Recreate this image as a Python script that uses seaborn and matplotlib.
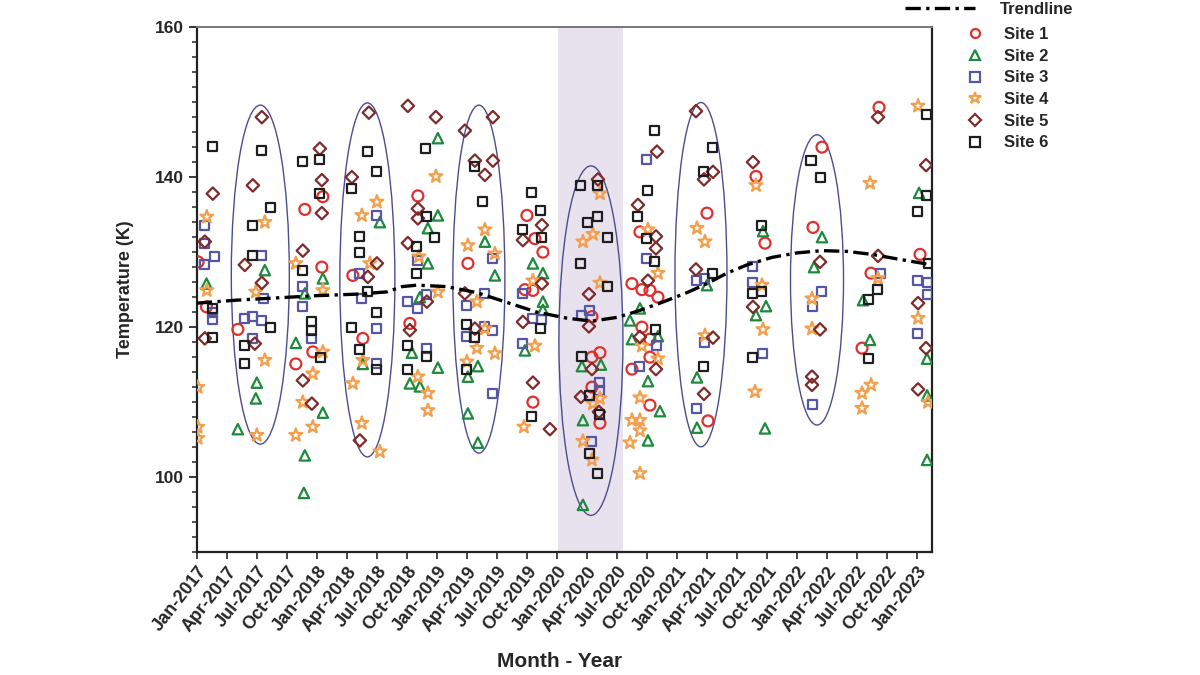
import matplotlib
matplotlib.use("Agg")
import matplotlib.pyplot as plt
from matplotlib.patches import Ellipse
from matplotlib.lines import Line2D
from matplotlib.ticker import MultipleLocator, FixedLocator
import seaborn as sns
import pandas as pd

# ---------------- data (x = months since Jan-2017, y = temperature K) -------------
tick_labels = ["Jan-2017", "Apr-2017", "Jul-2017", "Oct-2017", "Jan-2018", "Apr-2018",
               "Jul-2018", "Oct-2018", "Jan-2019", "Apr-2019", "Jul-2019", "Oct-2019",
               "Jan-2020", "Apr-2020", "Jul-2020", "Oct-2020", "Jan-2021", "Apr-2021",
               "Jul-2021", "Oct-2021", "Jan-2022", "Apr-2022", "Jul-2022", "Oct-2022",
               "Jan-2023"]

site1_month = [0.13, 0.97, 4.1, 9.9, 10.8, 12.6, 12.5, 11.6, 15.6, 16.6, 22.1, 21.3, 27.1,
               33.0, 33.8, 34.6, 32.8, 33.6, 33.6, 39.5, 40.3, 39.5, 39.5, 40.3, 44.3, 43.5,
               44.5, 45.3, 46.1, 44.5, 45.3, 45.3, 43.5, 45.3, 51.0, 51.1, 55.9, 56.8, 62.5,
               61.6, 68.2, 67.4, 66.5, 72.3]
site1_temp = [128.7, 122.7, 119.7, 115.1, 135.7, 137.4, 128.0, 116.7, 126.9, 118.5, 137.5,
              120.5, 128.5, 134.9, 131.8, 130.0, 125.0, 124.9, 110.0, 121.4, 116.6, 116.0,
              112.0, 107.2, 132.7, 125.8, 125.0, 124.9, 124.0, 120.0, 118.4, 116.0, 114.4,
              109.6, 135.2, 107.5, 140.1, 131.2, 144.0, 133.3, 149.3, 127.2, 117.2, 129.7]

site2_month = [0.97, 6.8, 6.0, 5.9, 4.1, 9.9, 12.6, 10.8, 10.7, 12.6, 10.8, 16.6, 18.3, 24.1,
               24.1, 23.1, 23.1, 22.3, 21.5, 24.1, 21.3, 22.3, 28.8, 29.8, 28.1, 27.1, 27.1,
               28.1, 33.6, 34.6, 34.6, 34.6, 32.8, 38.6, 38.6, 38.5, 40.4, 43.3, 43.5, 44.3,
               45.1, 46.3, 45.1, 50.0, 50.0, 51.0, 46.1, 56.6, 56.9, 55.9, 56.8, 62.5, 61.7,
               67.3, 66.6, 72.2, 73.0, 73.0, 73.0]
site2_temp = [125.8, 127.6, 112.6, 110.5, 106.4, 117.9, 126.5, 102.9, 97.9, 108.6, 124.5,
              115.1, 134.0, 145.2, 134.9, 133.2, 128.5, 124.0, 116.6, 114.6, 112.5, 112.1,
              131.4, 126.9, 114.8, 113.4, 108.5, 104.6, 128.5, 127.2, 123.4, 122.3, 116.9,
              96.3, 107.6, 114.8, 115.0, 120.9, 118.4, 122.5, 112.8, 108.8, 104.9, 113.3,
              106.6, 125.6, 118.8, 132.8, 122.8, 121.6, 106.5, 132.0, 128.0, 118.3, 123.6,
              137.9, 115.8, 110.9, 102.3]

site3_month = [0.8, 0.8, 1.8, 0.8, 1.6, 1.6, 4.8, 5.6, 6.5, 6.7, 6.5, 5.6, 10.6, 10.6, 11.5,
               16.5, 16.3, 18.0, 18.0, 18.0, 22.1, 21.1, 22.1, 23.0, 23.0, 27.0, 28.8, 27.0,
               29.6, 28.8, 29.6, 29.6, 32.6, 33.6, 34.5, 32.6, 38.5, 39.3, 40.3, 40.3, 39.5,
               45.0, 45.0, 46.0, 44.3, 50.0, 50.8, 50.8, 50.0, 55.6, 55.6, 56.6, 62.4, 61.5,
               61.5, 68.3, 72.0, 73.0, 73.0, 72.0]
site3_temp = [133.6, 131.1, 129.4, 128.3, 122.0, 121.0, 121.2, 121.4, 120.9, 123.8, 129.5,
              118.5, 125.4, 122.7, 118.5, 123.8, 127.2, 134.9, 119.8, 115.2, 128.9, 123.4,
              122.5, 124.4, 117.2, 122.9, 124.5, 118.7, 119.6, 120.1, 129.2, 111.2, 124.5,
              121.2, 121.0, 117.8, 121.6, 122.2, 112.6, 111.6, 104.8, 142.3, 129.2, 117.6,
              114.7, 126.2, 126.5, 117.9, 109.2, 128.1, 125.9, 116.5, 124.7, 122.7, 109.7,
              127.2, 126.2, 125.9, 124.4, 119.2]

site4_month = [1.0, 1.0, 0.1, 0.1, 0.1, 6.8, 5.9, 6.8, 6.0, 9.9, 12.6, 11.6, 10.6, 11.6, 9.9,
               12.6, 16.5, 15.6, 16.5, 18.0, 16.6, 17.3, 23.9, 22.2, 24.1, 22.1, 23.1, 23.1,
               18.3, 27.1, 28.8, 29.8, 28.0, 28.0, 28.8, 29.8, 27.0, 33.6, 33.8, 32.7, 40.3,
               39.6, 38.6, 40.3, 40.3, 39.6, 38.6, 39.5, 44.3, 44.3, 43.5, 44.3, 43.3, 44.3,
               46.1, 45.1, 44.5, 46.1, 50.0, 50.8, 50.8, 55.9, 56.6, 55.8, 56.5, 61.5, 61.5,
               67.3, 66.5, 67.4, 66.5, 72.1, 72.1, 73.1, 68.1]
site4_temp = [134.7, 124.9, 112.0, 106.7, 105.2, 134.0, 124.7, 115.6, 105.6, 128.5, 124.9,
              113.8, 110.0, 106.7, 105.6, 116.7, 134.9, 112.5, 107.2, 136.7, 115.6, 128.5,
              140.1, 129.4, 124.7, 113.4, 111.2, 108.9, 103.4, 130.9, 133.0, 129.8, 123.4,
              117.2, 119.8, 116.5, 115.4, 126.2, 117.5, 106.7, 137.8, 132.4, 131.4, 125.9,
              110.5, 109.8, 104.8, 102.3, 100.5, 106.2, 107.6, 107.6, 104.6, 110.6, 127.2,
              133.0, 117.5, 115.8, 133.2, 131.4, 118.9, 138.9, 119.7, 111.4, 125.6, 123.8,
              119.8, 139.2, 111.2, 112.3, 109.2, 149.5, 121.2, 110.0, 126.5]

site5_month = [1.6, 0.8, 0.8, 6.5, 5.6, 4.8, 6.5, 5.8, 12.3, 12.5, 12.5, 10.6, 10.6, 11.5,
               15.5, 17.2, 16.3, 17.1, 18.0, 21.1, 23.9, 26.8, 29.6, 27.8, 28.8, 29.6, 22.1,
               22.1, 21.1, 23.0, 26.8, 32.6, 34.5, 34.5, 32.6, 33.6, 35.3, 21.3, 27.8, 40.1,
               39.2, 39.2, 39.5, 38.4, 40.2, 44.1, 46.0, 45.9, 45.9, 45.1, 44.3, 45.9, 49.9,
               51.6, 50.7, 49.9, 51.6, 50.7, 55.6, 55.6, 62.3, 61.5, 61.5, 62.3, 68.1, 68.1,
               72.9, 72.1, 72.9, 72.1]
site5_temp = [137.8, 131.4, 118.5, 148.0, 138.9, 128.3, 125.9, 117.8, 143.8, 139.6, 135.2,
              130.2, 112.9, 109.8, 140.0, 148.6, 104.9, 126.7, 128.5, 149.5, 148.0, 146.2,
              148.0, 142.2, 140.3, 142.2, 135.8, 134.5, 131.2, 123.4, 124.5, 131.6, 133.6,
              125.8, 120.7, 112.6, 106.4, 119.6, 119.8, 139.7, 124.4, 120.1, 114.4, 110.7,
              108.7, 136.3, 143.4, 132.1, 130.5, 126.2, 118.7, 114.4, 148.8, 140.7, 139.7,
              127.7, 118.6, 111.1, 142.0, 122.7, 119.7, 113.4, 112.3, 128.7, 148.0, 129.5,
              141.6, 123.2, 117.2, 111.7]

site6_month = [1.6, 1.6, 1.6, 6.5, 7.4, 5.6, 5.6, 7.4, 4.8, 4.8, 10.6, 12.3, 12.3, 10.6, 11.5,
               11.5, 12.4, 15.5, 16.3, 16.3, 15.5, 16.3, 18.0, 17.1, 18.0, 17.1, 18.0, 22.9,
               23.0, 23.8, 22.0, 22.0, 21.1, 23.0, 21.1, 27.8, 28.6, 27.0, 27.8, 27.0, 33.5,
               34.4, 32.6, 34.5, 34.4, 33.5, 38.4, 40.1, 40.1, 39.1, 41.1, 38.4, 41.1, 38.5,
               39.3, 40.3, 39.3, 40.1, 45.8, 45.1, 44.1, 45.0, 45.8, 45.9, 51.6, 50.7, 51.6,
               50.7, 56.5, 55.6, 56.5, 55.6, 61.4, 62.3, 67.1, 68.0, 67.1, 72.9, 72.0, 72.9,
               73.1]
site6_temp = [144.1, 118.6, 122.5, 143.6, 136.0, 133.5, 129.6, 120.0, 117.5, 115.2, 142.1,
              142.3, 137.8, 127.6, 120.7, 119.6, 116.0, 138.5, 132.1, 130.0, 120.0, 117.0,
              114.3, 143.4, 140.7, 124.7, 122.0, 143.8, 134.7, 132.0, 130.8, 127.2, 117.6,
              116.1, 114.4, 141.4, 136.7, 120.3, 118.6, 114.3, 138.0, 135.6, 133.0, 132.0,
              119.8, 108.1, 138.9, 138.9, 134.7, 134.0, 131.9, 128.5, 125.4, 116.1, 110.9,
              108.3, 103.2, 100.5, 146.2, 138.2, 134.7, 131.8, 128.7, 119.7, 144.0, 140.7,
              127.2, 114.7, 133.6, 124.5, 124.7, 116.0, 142.2, 140.0, 123.7, 125.0, 115.8,
              148.4, 135.4, 137.5, 128.5]

trend_month = [0, 4, 8, 12, 16, 19, 20.5, 22, 25, 28, 31, 34, 37, 39.5, 42, 44, 46.5, 49, 51,
               53, 55, 57.5, 60, 62.5, 65, 67.5, 70, 73.5]
trend_temp = [123.2, 123.6, 123.9, 124.2, 124.4, 124.7, 125.4, 125.6, 125.4, 124.6, 123.3,
              122.0, 121.2, 120.8, 121.3, 122.1, 123.3, 124.6, 125.8, 127.2, 128.3, 129.3,
              129.9, 130.2, 130.1, 129.7, 129.1, 128.3]

site_names = ["Site 1", "Site 2", "Site 3", "Site 4", "Site 5", "Site 6"]
site_months = [site1_month, site2_month, site3_month, site4_month, site5_month, site6_month]
site_temps = [site1_temp, site2_temp, site3_temp, site4_temp, site5_temp, site6_temp]

# ---------------- styling ----------------
sns.set_theme(style="ticks")
plt.rcParams["font.family"] = ["Liberation Sans", "DejaVu Sans"]
plt.rcParams["font.weight"] = "bold"

colors = ["#e0302e", "#1e8a3c", "#5556a6", "#f2a04e", "#7e2b2b", "#1e1e1e"]
markers = ["o", "^", "s", "*", "D", "s"]
sizes = [62, 56, 42, 95, 40, 42]

fig = plt.figure(figsize=(12, 6.75), dpi=100)
ax = fig.add_axes([0.164, 0.182, 0.6127, 0.7778])

ax.axvspan(36.1, 42.6, color="#e8e2ee", lw=0, zorder=0)

ellipses = [(6.35, 127.0, 5.8, 45.2), (17.05, 126.3, 5.5, 47.2), (28.2, 126.4, 5.2, 46.4),
            (39.4, 118.2, 6.4, 46.6), (50.4, 127.0, 5.2, 45.9), (62.0, 126.3, 5.3, 38.7)]
for cx, cy, w, h in ellipses:
    ax.add_patch(Ellipse((cx, cy), w, h, fill=False, edgecolor="#4c4c8e", lw=1.0, zorder=1))

for name, mx, ty, c, m, s in zip(site_names, site_months, site_temps, colors, markers, sizes):
    df = pd.DataFrame({"month": mx, "temp": ty})
    sns.scatterplot(data=df, x="month", y="temp", ax=ax, marker=m, s=s,
                    facecolor="none", edgecolor=c, linewidth=1.6, zorder=3)

tdf = pd.DataFrame({"month": trend_month, "temp": trend_temp})
dash = (0, (4.6, 1.6, 1.0, 1.6))
sns.lineplot(data=tdf, x="month", y="temp", ax=ax, color="black", lw=2.4,
             linestyle=dash, zorder=4)

ax.set_xlim(0, 73.5)
ax.set_ylim(90, 160)
ax.xaxis.set_major_locator(FixedLocator([3 * i for i in range(len(tick_labels))]))
ax.set_xticklabels(tick_labels, rotation=52, ha="right", rotation_mode="anchor",
                   fontsize=13, fontweight="bold")
ax.yaxis.set_major_locator(FixedLocator([100, 120, 140, 160]))
ax.yaxis.set_minor_locator(MultipleLocator(2))
ax.tick_params(axis="y", which="major", labelsize=12.5, length=6, width=1.3, direction="out")
ax.tick_params(axis="y", which="minor", length=3.5, width=1.1, direction="out")
ax.tick_params(axis="x", which="major", length=5, width=1.2, direction="out", pad=3)
for lbl in ax.get_yticklabels():
    lbl.set_fontweight("bold")

for side in ["left", "bottom", "right"]:
    ax.spines[side].set_color("#222222")
    ax.spines[side].set_linewidth(1.6)
ax.spines["top"].set_color("#777777")
ax.spines["top"].set_linewidth(1.4)

ax.set_xlabel("Month - Year", fontsize=15, fontweight="bold")
ax.set_ylabel("Temperature (K)", fontsize=13, fontweight="bold")
ax.xaxis.set_label_coords(0.494, -0.19)
ax.yaxis.set_label_coords(-0.086, 0.5)

# legends
trend_handle = Line2D([], [], color="black", lw=2.4, linestyle=dash)
leg1 = ax.legend(handles=[trend_handle], labels=["Trendline"], loc="upper left",
                 bbox_to_anchor=(905 / 1200, 1.0 - 2 / 675), bbox_transform=fig.transFigure,
                 frameon=False, borderpad=0, borderaxespad=0, handlelength=4.2,
                 handletextpad=1.5, prop={"weight": "bold", "size": 12})
ax.add_artist(leg1)
site_handles = [Line2D([], [], linestyle="none", marker=m, markerfacecolor="none",
                       markeredgecolor=c, markeredgewidth=1.6,
                       markersize=(9 if m == "*" else 6.5))
                for c, m in zip(colors, markers)]
ax.legend(handles=site_handles, labels=site_names, loc="upper left",
          bbox_to_anchor=(967 / 1200, 0.960), bbox_transform=fig.transFigure,
          frameon=False, borderpad=0, borderaxespad=0, handlelength=1.0,
          handletextpad=1.2, labelspacing=0.4, prop={"weight": "bold", "size": 12})

fig.savefig("out.png", dpi=100)
